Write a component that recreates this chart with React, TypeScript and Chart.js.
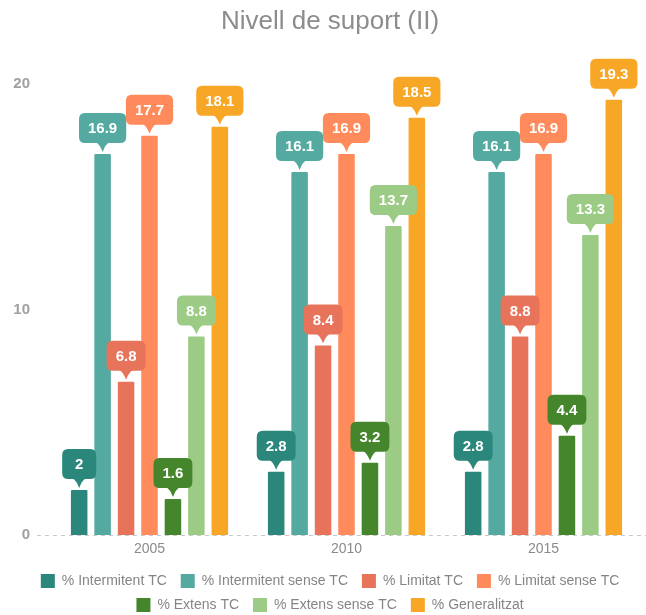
import React, { useEffect, useRef } from "react";
import { Chart, registerables } from "chart.js";

Chart.register(...registerables);

const categories = ["2005", "2010", "2015"];
const seriesNames = [
  "% Intermitent TC",
  "% Intermitent sense TC",
  "% Limitat TC",
  "% Limitat sense TC",
  "% Extens TC",
  "% Extens sense TC",
  "% Generalitzat",
];
const intermitentTC = [2, 2.8, 2.8];
const intermitentSenseTC = [16.9, 16.1, 16.1];
const limitatTC = [6.8, 8.4, 8.8];
const limitatSenseTC = [17.7, 16.9, 16.9];
const extensTC = [1.6, 3.2, 4.4];
const extensSenseTC = [8.8, 13.7, 13.3];
const generalitzat = [18.1, 18.5, 19.3];
const yTicks = [0, 10, 20];

const colors = ["#2b877b", "#54a9a0", "#e8735b", "#ff8a5b", "#45852b", "#9ccb86", "#f8a626"];
const FONT = "'Liberation Sans', Arial, sans-serif";

function roundRect(ctx: CanvasRenderingContext2D, x: number, y: number, w: number, h: number, r: number) {
  ctx.beginPath();
  ctx.moveTo(x + r, y);
  ctx.lineTo(x + w - r, y);
  ctx.quadraticCurveTo(x + w, y, x + w, y + r);
  ctx.lineTo(x + w, y + h - r);
  ctx.quadraticCurveTo(x + w, y + h, x + w - r, y + h);
  ctx.lineTo(x + r, y + h);
  ctx.quadraticCurveTo(x, y + h, x, y + h - r);
  ctx.lineTo(x, y + r);
  ctx.quadraticCurveTo(x, y, x + r, y);
  ctx.closePath();
}

const labelPlugin = {
  id: "calloutLabels",
  afterDatasetsDraw(chart: any) {
    const ctx: CanvasRenderingContext2D = chart.ctx;
    ctx.save();
    ctx.font = `bold 15px ${FONT}`;
    ctx.textAlign = "center";
    ctx.textBaseline = "middle";
    chart.data.datasets.forEach((ds: any, di: number) => {
      const meta = chart.getDatasetMeta(di);
      meta.data.forEach((bar: any, i: number) => {
        const v = ds.data[i];
        const txt = String(v);
        const tw = ctx.measureText(txt).width;
        const w = Math.max(tw + 18, 34);
        const h = 30;
        const tip = bar.y - 2;
        const pH = 9;
        const boxBottom = tip - pH;
        const boxTop = boxBottom - h;
        ctx.fillStyle = ds.backgroundColor;
        roundRect(ctx, bar.x - w / 2, boxTop, w, h, 6);
        ctx.fill();
        ctx.beginPath();
        ctx.moveTo(bar.x - 7, boxBottom - 1);
        ctx.quadraticCurveTo(bar.x - 3, boxBottom + 1, bar.x, tip);
        ctx.quadraticCurveTo(bar.x + 3, boxBottom + 1, bar.x + 7, boxBottom - 1);
        ctx.closePath();
        ctx.fill();
        ctx.fillStyle = "#ffffff";
        ctx.fillText(txt, bar.x, boxTop + h / 2 + 1);
      });
    });
    ctx.restore();
  },
};

const zeroLinePlugin = {
  id: "zeroLine",
  beforeDatasetsDraw(chart: any) {
    const ctx: CanvasRenderingContext2D = chart.ctx;
    const y = Math.round(chart.scales.y.getPixelForValue(0)) + 0.5;
    ctx.save();
    ctx.strokeStyle = "#c8c8c8";
    ctx.lineWidth = 1;
    ctx.setLineDash([4, 4]);
    ctx.beginPath();
    ctx.moveTo(37, y);
    ctx.lineTo(chart.width, y);
    ctx.stroke();
    ctx.restore();
  },
};

// shift title and legend blocks so they are centred like the reference
const centerShiftPlugin = {
  id: "centerShift",
  afterLayout(chart: any) {
    if (chart.titleBlock) {
      chart.titleBlock.left += 9;
      chart.titleBlock.right += 9;
    }
    if (chart.legend) {
      chart.legend.left += 11;
      chart.legend.right += 11;
    }
  },
};

export default function App() {
  const ref = useRef<HTMLCanvasElement>(null);
  useEffect(() => {
    if (!ref.current) return;
    const seriesData = [intermitentTC, intermitentSenseTC, limitatTC, limitatSenseTC, extensTC, extensSenseTC, generalitzat];
    const chart = new Chart(ref.current, {
      type: "bar",
      data: {
        labels: categories,
        datasets: seriesNames.map((name, i) => ({
          label: name,
          data: seriesData[i],
          backgroundColor: colors[i],
          borderWidth: 0,
          borderRadius: 1,
          categoryPercentage: 0.833,
          barPercentage: 0.705,
        })),
      },
      options: {
        animation: false,
        responsive: false,
        layout: { padding: { left: 0, right: 4, top: 0, bottom: 0 } },
        plugins: {
          title: {
            display: true,
            text: "Nivell de suport (II)",
            color: "#8c8c8c",
            font: { family: FONT, size: 26, weight: "normal", lineHeight: 1.2 },
            padding: { top: 6, bottom: 46.8 },
          },
          legend: {
            position: "bottom",
            labels: {
              color: "#858585",
              font: { family: FONT, size: 14 },
              boxWidth: 14,
              boxHeight: 14,
              padding: 10,
              generateLabels: (chart: any) =>
                Chart.defaults.plugins.legend.labels
                  .generateLabels(chart)
                  .map((item: any) => ({ ...item, text: item.text + " " })),
            },
          },
          tooltip: { enabled: false },
        },
        scales: {
          x: {
            grid: { display: false, drawTicks: false },
            border: { display: false },
            ticks: { color: "#8a8a8a", font: { family: FONT, size: 14 }, padding: 6 },
            afterFit: (scale: any) => {
              scale.height = 29;
            },
          },
          y: {
            min: 0,
            max: 20,
            afterBuildTicks: (scale: any) => {
              scale.ticks = yTicks.map((v) => ({ value: v }));
            },
            afterFit: (scale: any) => {
              scale.width = 51;
            },
            grid: { display: false, drawTicks: false },
            border: { display: false },
            ticks: { color: "#a0a0a0", font: { family: FONT, size: 15, weight: "bold" }, padding: 21 },
          },
        },
      },
      plugins: [zeroLinePlugin, labelPlugin, centerShiftPlugin],
    });
    return () => chart.destroy();
  }, []);
  return (
    <div style={{ position: "absolute", left: 0, top: 0, width: 646, height: 615, overflow: "hidden" }}>
      <canvas ref={ref} width={646} height={622} style={{ display: "block" }} />
    </div>
  );
}
